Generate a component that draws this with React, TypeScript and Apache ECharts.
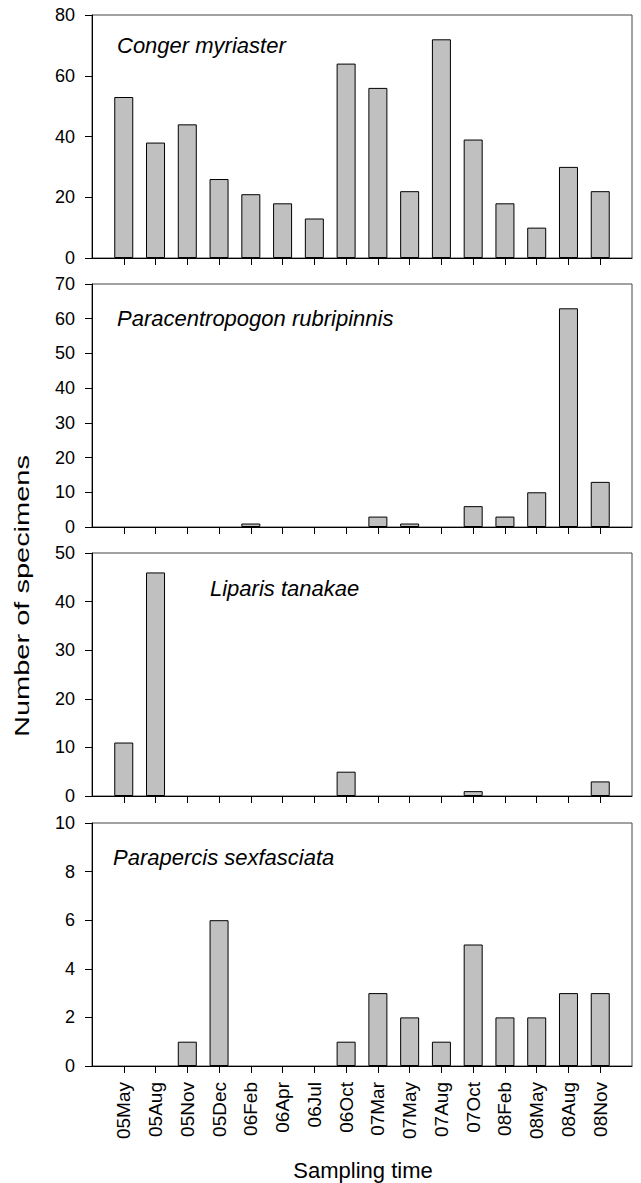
import React, { useEffect, useRef } from "react";
import * as echarts from "echarts";

const categories = ["05May", "05Aug", "05Nov", "05Dec", "06Feb", "06Apr", "06Jul", "06Oct", "07Mar", "07May", "07Aug", "07Oct", "08Feb", "08May", "08Aug", "08Nov"];

const congerValues = [53, 38, 44, 26, 21, 18, 13, 64, 56, 22, 72, 39, 18, 10, 30, 22];
const paracentropogonValues = [0, 0, 0, 0, 1, 0, 0, 0, 3, 1, 0, 6, 3, 10, 63, 13];
const liparisValues = [11, 46, 0, 0, 0, 0, 0, 5, 0, 0, 0, 1, 0, 0, 0, 3];
const parapercisValues = [0, 0, 1, 6, 0, 0, 0, 1, 3, 2, 1, 5, 2, 2, 3, 3];

const speciesNames = ["Conger myriaster", "Paracentropogon rubripinnis", "Liparis tanakae", "Parapercis sexfasciata"];
const yMax = [80, 70, 50, 10];
const yInterval = [20, 10, 10, 2];

const FONT = "'Liberation Sans', Arial, Helvetica, sans-serif";

export default function App() {
  const ref = useRef<HTMLDivElement>(null);
  useEffect(() => {
    if (!ref.current) return;
    const chart = echarts.init(ref.current, null, { renderer: "svg" });
    const paddedCats = ["", ...categories, ""];
    const allValues = [congerValues, paracentropogonValues, liparisValues, parapercisValues];
    const tops = [15, 284, 553, 823];
    const height = 243;
    const left = 92;
    const right = 9;
    const titlePos = [
      { x: 117, y: 45 },
      { x: 117, y: 318 },
      { x: 210, y: 588 },
      { x: 113, y: 857 },
    ];
    const grids = tops.map((t) => ({
      left,
      right,
      top: t,
      height,
      show: true,
      borderColor: "#444",
      borderWidth: 1,
      backgroundColor: "transparent",
      containLabel: false,
    }));
    const xAxes = tops.map((_, i) => ({
      type: "category",
      gridIndex: i,
      data: paddedCats,
      boundaryGap: false,
      axisLine: { show: true, lineStyle: { color: "#000", width: 1 } },
      axisTick: {
        show: true,
        length: 7,
        inside: false,
        interval: (idx: number) => idx > 0 && idx < paddedCats.length - 1,
        lineStyle: { color: "#000", width: 1 },
      },
      axisLabel: {
        show: i === 3,
        rotate: 90,
        margin: 16,
        fontSize: 19,
        color: "#000",
        fontFamily: FONT,
        interval: (idx: number) => idx > 0 && idx < paddedCats.length - 1,
      },
      splitLine: { show: false },
    }));
    const yAxes = tops.map((_, i) => ({
      type: "value",
      gridIndex: i,
      min: 0,
      max: yMax[i],
      interval: yInterval[i],
      axisLine: { show: true, lineStyle: { color: "#000", width: 1 } },
      axisTick: { show: true, length: 7, inside: false, lineStyle: { color: "#000", width: 1 } },
      axisLabel: { fontSize: 18, color: "#000", margin: 17, fontFamily: FONT },
      splitLine: { show: false },
    }));
    const series = allValues.map((vals, i) => ({
      type: "bar",
      xAxisIndex: i,
      yAxisIndex: i,
      data: [null, ...vals.map((v) => (v === 0 ? "-" : v)), null],
      barWidth: 19,
      itemStyle: { color: "#c0c0c0", borderColor: "#000", borderWidth: 1 },
    }));
    const graphics: any[] = speciesNames.map((name, i) => ({
      type: "text",
      x: titlePos[i].x,
      y: titlePos[i].y,
      style: {
        text: name,
        font: `italic 22px ${FONT}`,
        fill: "#000",
        verticalAlign: "middle",
        align: "left",
      },
      z: 10,
    }));
    graphics.push({
      type: "text",
      x: 363,
      y: 1170,
      style: { text: "Sampling time", font: `22px ${FONT}`, fill: "#000", align: "center", verticalAlign: "middle" },
    });
    graphics.push({
      type: "text",
      x: 22,
      y: 596,
      rotation: Math.PI / 2,
      scaleX: 1.45,
      style: { text: "Number of specimens", font: `20px ${FONT}`, fill: "#000", align: "center", verticalAlign: "middle" },
    });
    chart.setOption({
      animation: false,
      backgroundColor: "#fff",
      grid: grids,
      xAxis: xAxes,
      yAxis: yAxes,
      series,
      graphic: graphics,
    });
    return () => chart.dispose();
  }, []);
  return <div ref={ref} style={{ position: "absolute", left: 0, top: 0, width: 641, height: 1183 }} />;
}
